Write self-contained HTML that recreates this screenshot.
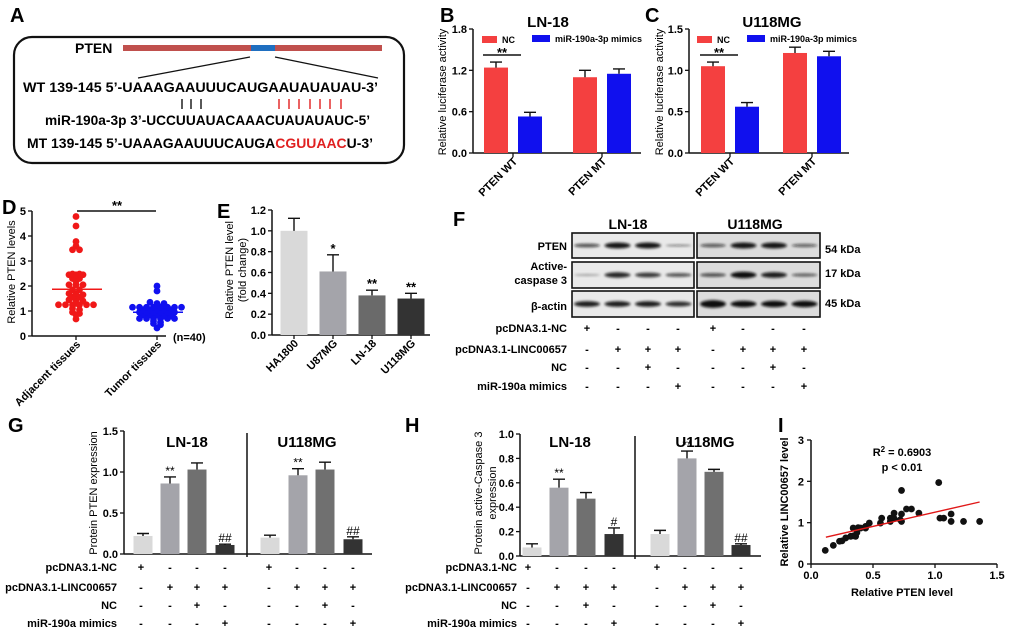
<!DOCTYPE html>
<html><head><meta charset="utf-8"><style>
html,body{margin:0;padding:0;background:#fff;}
svg{display:block;font-family:"Liberation Sans",Arial,sans-serif;}
</style></head><body>
<svg id="fig" width="1020" height="638" viewBox="0 0 1020 638" xmlns="http://www.w3.org/2000/svg">
<defs><filter id="blur" x="-20%" y="-100%" width="140%" height="300%"><feGaussianBlur stdDeviation="1.3"/></filter></defs>
<g font-weight="bold">
<text x="10" y="22" font-size="20">A</text>
<rect x="14" y="37" width="390" height="126" rx="18" fill="none" stroke="#111" stroke-width="2.2"/>
<text x="75" y="53" font-size="14">PTEN</text>
<rect x="123" y="45" width="259" height="6" fill="#c0504d"/>
<rect x="251" y="45" width="24" height="6" fill="#1f6fc0"/>
<line x1="250" y1="57" x2="138" y2="78" stroke="#111" stroke-width="1.2"/>
<line x1="275" y1="57" x2="378" y2="78" stroke="#111" stroke-width="1.2"/>
<text x="23" y="92" font-size="13.5" textLength="355" lengthAdjust="spacingAndGlyphs">WT 139-145  5’-UAAAGAAUUUCAUGAAUAUAUAU-3’</text>
<g stroke-width="1.4">
<line x1="182" y1="99" x2="182" y2="109" stroke="#111"/><line x1="191" y1="99" x2="191" y2="109" stroke="#111"/><line x1="201" y1="99" x2="201" y2="109" stroke="#111"/>
<line x1="279" y1="99" x2="279" y2="109" stroke="#e02020"/><line x1="289" y1="99" x2="289" y2="109" stroke="#e02020"/><line x1="299" y1="99" x2="299" y2="109" stroke="#e02020"/><line x1="310" y1="99" x2="310" y2="109" stroke="#e02020"/><line x1="320" y1="99" x2="320" y2="109" stroke="#e02020"/><line x1="330" y1="99" x2="330" y2="109" stroke="#e02020"/><line x1="341" y1="99" x2="341" y2="109" stroke="#e02020"/>
</g>
<text x="45" y="125" font-size="13.5" textLength="325" lengthAdjust="spacingAndGlyphs">miR-190a-3p 3’-UCCUUAUACAAACUAUAUAUC-5’</text>
<text x="27" y="148" font-size="13.5" textLength="346" lengthAdjust="spacingAndGlyphs">MT 139-145  5’-UAAAGAAUUUCAUGA<tspan fill="#e02020">CGUUAAC</tspan>U-3’</text>
</g>
</svg>
<script>
// ---------- data ----------
const bCategories = ["PTEN WT", "PTEN MT"];
const bNC = [1.24, 1.10];
const bNCErr = [0.08, 0.10];
const bMimic = [0.53, 1.15];
const bMimicErr = [0.06, 0.07];
const bTicks = [0, 0.6, 1.2, 1.8];

const cCategories = ["PTEN WT", "PTEN MT"];
const cNC = [1.05, 1.21];
const cNCErr = [0.05, 0.07];
const cMimic = [0.56, 1.17];
const cMimicErr = [0.05, 0.06];
const cTicks = [0, 0.5, 1.0, 1.5];

const dCategories = ["Adjacent tissues", "Tumor tissues"];
const dAdjacent = [4.78,4.4,3.78,3.6,3.45,3.45,2.48,2.48,2.45,2.45,2.45,2.3,2.3,2.2,2.05,2.05,2.05,1.85,1.85,1.7,1.7,1.65,1.55,1.55,1.45,1.45,1.4,1.3,1.25,1.25,1.25,1.25,1.25,1.25,1.1,1.05,0.95,0.9,0.85,0.68];
const dTumor = [2.0,1.8,1.35,1.3,1.3,1.15,1.15,1.15,1.15,1.15,1.15,1.15,1.15,1.05,1.05,1.05,1.05,1.05,0.95,0.95,0.95,0.95,0.95,0.95,0.85,0.85,0.85,0.8,0.8,0.7,0.7,0.7,0.7,0.7,0.7,0.6,0.55,0.5,0.45,0.32];
const dMeans = [1.87, 0.95];
const dTicks = [0,1,2,3,4,5];

const eCategories = ["HA1800","U87MG","LN-18","U118MG"];
const eValues = [1.0, 0.61, 0.38, 0.35];
const eErrors = [0.12, 0.16, 0.05, 0.05];
const eMarks = ["", "*", "**", "**"];
const eTicks = [0,0.2,0.4,0.6,0.8,1.0,1.2];

const fPtenLN = [0.6, 0.95, 0.95, 0.3];
const fPtenU = [0.55, 0.95, 0.95, 0.5];
const fCaspLN = [0.1, 0.85, 0.75, 0.6];
const fCaspU = [0.6, 1.0, 0.9, 0.5];
const fActinLN = [0.9, 0.9, 0.9, 0.8];
const fActinU = [1.2, 1.0, 1.0, 1.0];

const rowLabels = ["pcDNA3.1-NC","pcDNA3.1-LINC00657","NC","miR-190a mimics"];
const rowSigns = [["+","-","-","-"],["-","+","+","+"],["-","-","+","-"],["-","-","-","+"]];

const gValues = [0.22,0.86,1.03,0.11,0.20,0.96,1.03,0.18];
const gErrors = [0.03,0.08,0.08,0.01,0.03,0.08,0.09,0.03];
const gMarks = ["","**","","##","","**","","##"];
const gTicks = [0,0.5,1.0,1.5];

const hValues = [0.07,0.56,0.47,0.18,0.18,0.80,0.69,0.09];
const hErrors = [0.03,0.07,0.05,0.05,0.03,0.06,0.02,0.01];
const hMarks = ["","**","","#","","**","","##"];
const hTicks = [0,0.2,0.4,0.6,0.8,1.0];

const iPten = [0.115,0.18,0.23,0.25,0.28,0.32,0.34,0.34,0.36,0.37,0.38,0.40,0.44,0.44,0.47,0.56,0.57,0.64,0.64,0.67,0.67,0.72,0.73,0.73,0.73,0.77,0.81,0.87,1.03,1.04,1.07,1.13,1.13,1.23,1.36];
const iLinc = [0.33,0.45,0.55,0.56,0.63,0.67,0.87,0.68,0.67,0.76,0.88,0.87,0.87,0.91,0.99,0.99,1.11,1.11,1.03,1.1,1.23,1.07,1.78,1.21,1.03,1.33,1.33,1.23,1.97,1.11,1.11,1.21,1.03,1.03,1.03];
const iFitX = [0.12, 1.36];
const iFitY = [0.65, 1.50];
const iXTicks = [0,0.5,1.0,1.5];
const iYTicks = [0,1,2,3];

// ---------- helpers ----------
const NS='http://www.w3.org/2000/svg';
const svg=document.getElementById('fig');
function el(tag,attrs,parent){const e=document.createElementNS(NS,tag);for(const k in attrs)e.setAttribute(k,attrs[k]);(parent||svg).appendChild(e);return e;}
function txt(s,attrs,parent){const e=el('text',attrs,parent);e.textContent=s;return e;}
function lin(d0,d1,r0,r1){return v=>r0+(v-d0)*(r1-r0)/(d1-d0);}
function fmt(v,dec){return v.toFixed(dec);}
function group(name){const g=el('g',{});


return g;}
function label(g,s,x,y,size,extra){const t=txt(s,Object.assign({x:x,y:y,'font-size':size,'font-weight':'bold'},extra||{}),g);


return t;}

function yAxis(g,x0,ys,ticks,dec,yTop,y0){
  const a=el('line',{x1:x0,y1:yTop,x2:x0,y2:y0,stroke:'#111','stroke-width':1.5},g);
  
  
  ticks.forEach(t=>{
    const tk=el('line',{x1:x0-4,y1:ys(t),x2:x0,y2:ys(t),stroke:'#111','stroke-width':1.3},g);
    
    
    const tl=txt(fmt(t,dec),{x:x0-6,y:ys(t)+4,'font-size':11,'font-weight':'bold','text-anchor':'end'},g);
    
    
  });
}
function xAxis(g,x0,x1,y0){
  const a=el('line',{x1:x0,y1:y0,x2:x1,y2:y0,stroke:'#111','stroke-width':1.5},g);
  
  
}
function bar(g,cx,w,v,err,ys,color,name){
  const y0=ys(0),yt=ys(v),ye=ys(v+err);
  const r=el('rect',{x:cx-w/2,y:yt,width:w,height:y0-yt,fill:color},g);
  
  
  const e=el('path',{d:`M${cx} ${yt}V${ye}M${cx-6} ${ye}H${cx+6}`,stroke:'#111','stroke-width':1.4,fill:'none'},g);
  
  
  return ye;
}
function rotLabel(g,s,x,y){
  const t=txt(s,{x:x,y:y,'font-size':11,'font-weight':'bold','text-anchor':'end',transform:`rotate(-45 ${x} ${y})`},g);
  
  
}
function yTitle(g,s,x,cy,size){
  const t=txt(s,{x:x,y:cy,'font-size':size||11,'text-anchor':'middle',transform:`rotate(-90 ${x} ${cy})`},g);
  
  
}
function xTick(g,x,y0){
  const t=el('line',{x1:x,y1:y0,x2:x,y2:y0+4,stroke:'#111','stroke-width':1.3},g);
  
  
}

// ---------- B & C luciferase ----------
function lucPanel(name,letter,lx,title,tcx,x0,x1,vmax,ticks,cats,nc,ncE,mi,miE,centers,legX,yTitleX){
  const g=group(name);
  label(g,letter,lx,22,20);
  label(g,title,tcx,27,15,{'text-anchor':'middle'});
  const ys=lin(0,vmax,153,29);
  yAxis(g,x0,ys,ticks,1,29,153);
  xAxis(g,x0,x1,153);
  yTitle(g,'Relative luciferase activity',yTitleX,92);
  cats.forEach((c,i)=>{
    const cN=centers[i]-17,cM=centers[i]+17;
    bar(g,cN,24,nc[i],ncE[i],ys,'#f44040','bar-nc');
    bar(g,cM,24,mi[i],miE[i],ys,'#1010ee','bar-mimics');
    xTick(g,centers[i],153);
    rotLabel(g,c,centers[i]+5,162);
  });
  const l1=el('rect',{x:legX,y:36,width:15,height:7,fill:'#f44040'},g);
  
  
  label(g,'NC',legX+20,43,9);
  const l2=el('rect',{x:legX+50,y:35,width:18,height:7,fill:'#1010ee'},g);
  
  
  label(g,'miR-190a-3p mimics',legX+73,42,9);
  const s=el('line',{x1:centers[0]-30,y1:55,x2:centers[0]+8,y2:55,stroke:'#111','stroke-width':1.5},g);
  
  
  label(g,'**',centers[0]-11,57,13,{'text-anchor':'middle'});
}
lucPanel('panel-b','B',440,'LN-18',548,473,641,1.8,bTicks,bCategories,bNC,bNCErr,bMimic,bMimicErr,[513,602],482,446);
lucPanel('panel-c','C',645,'U118MG',772,689,849,1.5,cTicks,cCategories,cNC,cNCErr,cMimic,cMimicErr,[730,812],697,663);

// ---------- D scatter ----------
(function(){
  const g=group('panel-d');
  label(g,'D',2,214,20);
  const ys=lin(0,5,336,211);
  yAxis(g,32,ys,dTicks,0,211,336);
  xAxis(g,32,166,336);
  yTitle(g,'Relative PTEN levels',15,272);
  const centers=[76,157];const colors=['#f01818','#1010f0'];
  [dAdjacent,dTumor].forEach((vals,k)=>{
    const bins={};
    vals.forEach(v=>{const b=Math.round(v/0.12);(bins[b]=bins[b]||[]).push(v);});
    Object.keys(bins).forEach(b=>{
      const arr=bins[b];
      arr.forEach((v,j)=>{
        const c=el('circle',{cx:centers[k]+(j-(arr.length-1)/2)*7,cy:ys(v),r:3.4,fill:colors[k]},g);
        
        
      });
    });
    const m=el('line',{x1:centers[k]-24,y1:ys(dMeans[k]),x2:centers[k]+26,y2:ys(dMeans[k]),stroke:colors[k],'stroke-width':1.6},g);
    
    
    xTick(g,centers[k],336);
    rotLabel(g,dCategories[k],centers[k]+5,345);
  });
  const s=el('line',{x1:77,y1:211,x2:156,y2:211,stroke:'#111','stroke-width':1.5},g);
  
  
  label(g,'**',117,210,13,{'text-anchor':'middle'});
  label(g,'(n=40)',173,341,11);
})();

// ---------- E bars ----------
(function(){
  const g=group('panel-e');
  label(g,'E',217,218,20);
  const ys=lin(0,1.2,335,210);
  yAxis(g,272,ys,eTicks,1,210,335);
  xAxis(g,272,430,335);
  yTitle(g,'Relative PTEN level',233,270);
  yTitle(g,'(fold change)',246,270);
  const colors=['#d9d9d9','#a4a4aa','#6a6a6a','#333333'];
  eCategories.forEach((c,i)=>{
    const cx=294+i*39;
    const ye=bar(g,cx,27,eValues[i],eErrors[i],ys,colors[i],'bar-'+c.toLowerCase());
    if(eMarks[i])label(g,eMarks[i],cx,ye-2,13,{'text-anchor':'middle'});
    xTick(g,cx,335);
    rotLabel(g,c,cx+5,344);
  });
})();

// ---------- F western blot ----------
(function(){
  const g=group('panel-f');
  label(g,'F',453,226,20);
  label(g,'LN-18',628,229,14,{'text-anchor':'middle'});
  label(g,'U118MG',755,229,14,{'text-anchor':'middle'});
  const rows=[[233,25,fPtenLN,fPtenU],[262,26,fCaspLN,fCaspU],[291,26,fActinLN,fActinU]];
  const boxes=[[572,122,'#e9e9e9'],[697,123,'#dcdcdc']];
  rows.forEach(r=>{
    boxes.forEach((b,k)=>{
      const rc=el('rect',{x:b[0],y:r[0],width:b[1],height:r[1],fill:b[2],stroke:'#111','stroke-width':1.6},g);
      
      
      const ints=k===0?r[2]:r[3];
      ints.forEach((v,j)=>{
        const cx=(k===0?587:713)+j*30.5;
        const e=el('ellipse',{cx:cx,cy:r[0]+r[1]/2,rx:13,ry:Math.max(1,3.2*v),fill:'#111','fill-opacity':Math.min(1,0.25+0.75*v),filter:'url(#blur)'},g);
        
        
      });
    });
  });
  label(g,'PTEN',567,250,11,{'text-anchor':'end'});
  label(g,'Active-',567,270,11,{'text-anchor':'end'});
  label(g,'caspase 3',567,284,11,{'text-anchor':'end'});
  label(g,'β-actin',567,310,11,{'text-anchor':'end'});
  label(g,'54 kDa',825,253,11);
  label(g,'17 kDa',825,277,11);
  label(g,'45 kDa',825,307,11);
  const ry=[332,353,371,390];const cols=[587,618,648,678,713,743,773,804];
  rowLabels.forEach((s,i)=>{
    label(g,s,567,ry[i],11,{'text-anchor':'end'});
    cols.forEach((x,j)=>label(g,rowSigns[i][j%4],x,ry[i],11,{'text-anchor':'middle'}));
  });
})();

// ---------- G & H ----------
function protPanel(name,letter,lx,x0,x1,y0,yTop,vmax,ticks,vals,errs,marks,centers,divX,titles,titleY,ytitles,ytx,lblRight,cols){
  const g=group(name);
  label(g,letter,lx,432,20);
  const ys=lin(0,vmax,y0,yTop);
  yAxis(g,x0,ys,ticks,1,yTop,y0);
  xAxis(g,x0,x1,y0);
  ytitles.forEach((t,i)=>yTitle(g,t,ytx[i],493));
  const d=el('line',{x1:divX,y1:yTop+2,x2:divX,y2:y0+3,stroke:'#111','stroke-width':1.5},g);
  
  
  label(g,'LN-18',titles[0],titleY,15,{'text-anchor':'middle'});
  label(g,'U118MG',titles[1],titleY,15,{'text-anchor':'middle'});
  const colors=['#d9d9d9','#a4a4aa','#707070','#333333'];
  vals.forEach((v,i)=>{
    const ye=bar(g,centers[i],19,v,errs[i],ys,colors[i%4],'bar-group-'+(i+1));
    if(marks[i])label(g,marks[i],centers[i],ye-2,12,{'text-anchor':'middle','font-weight':'normal'});
  });
  const ry=[571,591,609,627];
  rowLabels.forEach((s,i)=>{
    label(g,s,lblRight,ry[i],11,{'text-anchor':'end'});
    cols.forEach((x,j)=>label(g,rowSigns[i][j%4],x,ry[i],11,{'text-anchor':'middle'}));
  });
}
protPanel('panel-g','G',8,124,372,554,431,1.5,gTicks,gValues,gErrors,gMarks,[143,170,197,225,270,298,325,353],247,[187,307],447,['Protein PTEN expression'],[97],117,[141,170,197,225,269,297,325,353]);
protPanel('panel-h','H',405,520,761,556,434,1.0,hTicks,hValues,hErrors,hMarks,[532,559,586,614,660,687,714,741],635,[570,705],447,['Protein active-Caspase 3','expression'],[482,496],517,[528,557,586,614,657,685,713,741]);

// ---------- I correlation ----------
(function(){
  const g=group('panel-i');
  label(g,'I',778,432,20);
  const xs=lin(0,1.5,811,997),ys=lin(0,3,564,440);
  const ya=el('line',{x1:811,y1:440,x2:811,y2:564,stroke:'#111','stroke-width':1.5},g);
  
  
  const xa=el('line',{x1:811,y1:564,x2:997,y2:564,stroke:'#111','stroke-width':1.5},g);
  
  
  iYTicks.forEach(t=>{
    const tk=el('line',{x1:807,y1:ys(t),x2:811,y2:ys(t),stroke:'#111','stroke-width':1.3},g);
    
    
    label(g,String(t),804,ys(t)+4,11,{'text-anchor':'end'});
  });
  iXTicks.forEach(t=>{
    const tk=el('line',{x1:xs(t),y1:564,x2:xs(t),y2:568,stroke:'#111','stroke-width':1.3},g);
    
    
    label(g,fmt(t,1),xs(t),579,11,{'text-anchor':'middle'});
  });
  iPten.forEach((v,i)=>{
    const c=el('circle',{cx:xs(v),cy:ys(iLinc[i]),r:3.4,fill:'#111'},g);
    
    
  });
  const fl=el('line',{x1:xs(iFitX[0]),y1:ys(iFitY[0]),x2:xs(iFitX[1]),y2:ys(iFitY[1]),stroke:'#e01818','stroke-width':1.4},g);
  
  
  const r2=txt('',{x:902,y:456,'font-size':11,'font-weight':'bold','text-anchor':'middle'},g);
  
  
  r2.innerHTML='R<tspan dy="-4" font-size="8">2</tspan><tspan dy="4"> = 0.6903</tspan>';
  label(g,'p < 0.01',902,471,11,{'text-anchor':'middle'});
  label(g,'Relative PTEN level',902,596,11,{'text-anchor':'middle'});
  const yt=txt('Relative LINC00657 level',{x:788,y:502,'font-size':11,'font-weight':'bold','text-anchor':'middle',transform:'rotate(-90 788 502)'},g);
  
  
})();
</script>
</body></html>
